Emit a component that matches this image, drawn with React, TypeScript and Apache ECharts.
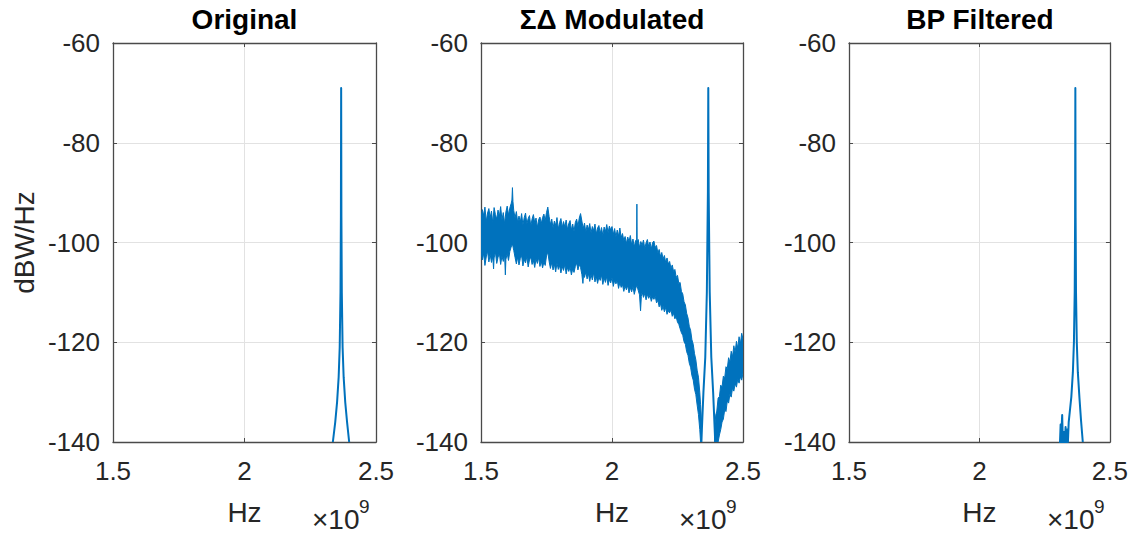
import React, { useEffect, useRef } from 'react';
import * as echarts from 'echarts';

const FONT = '"Liberation Sans", Arial, Helvetica, sans-serif';
const BLUE = '#0072BD';
const INK = '#262626';

const panelTitles = ['Original', 'ΣΔ Modulated', 'BP Filtered'];
const xLabel = 'Hz';
const yLabel = 'dBW/Hz';
const xExponent = '9';
const xRange = [1.5, 2.5]; // ×10^9 Hz
const xStep = 0.5;
const yRange = [-140, -60];
const yStep = 20;

// Original carrier PSD: [frequency (×10^9 Hz), dBW/Hz]
const originalPsd: [number, number][] = [
  [2.336, -140], [2.345, -136], [2.352, -132], [2.358, -127], [2.362, -121],
  [2.365, -110], [2.3665, -95], [2.3675, -69], [2.3685, -95], [2.370, -110],
  [2.373, -121], [2.377, -127], [2.383, -132], [2.390, -136], [2.398, -140],
];

// ΣΔ modulated: upper edge of the shaped noise floor, left of the carrier
const noiseUpperLow: [number, number][] = [
  [1.500, -95.2], [1.505, -93.4], [1.510, -94.6], [1.515, -92.9], [1.520, -95.8],
  [1.525, -94.1], [1.530, -93.2], [1.535, -95.0], [1.540, -93.7], [1.545, -96.1],
  [1.550, -93.0], [1.555, -94.4], [1.560, -95.3], [1.565, -93.5], [1.570, -94.8],
  [1.575, -92.8], [1.580, -95.5], [1.585, -94.0], [1.590, -96.2], [1.595, -93.9],
  [1.600, -92.7], [1.605, -94.5], [1.610, -93.1], [1.615, -92.2], [1.618, -91.5],
  [1.620, -89.0], [1.622, -91.8], [1.625, -93.6], [1.630, -95.1], [1.635, -93.8],
  [1.640, -96.0], [1.645, -94.7], [1.650, -95.9], [1.655, -94.2], [1.660, -96.5],
  [1.665, -95.0], [1.670, -94.1], [1.675, -96.3], [1.680, -95.2], [1.685, -94.6],
  [1.690, -96.7], [1.695, -95.3], [1.700, -94.4], [1.705, -96.0], [1.710, -95.1],
  [1.715, -97.0], [1.720, -95.4], [1.725, -94.9], [1.730, -96.2], [1.735, -95.0],
  [1.740, -94.3], [1.745, -95.6], [1.750, -94.0], [1.755, -92.9], [1.760, -94.8],
  [1.765, -96.4], [1.770, -95.3], [1.775, -97.1], [1.780, -95.7], [1.785, -96.6],
  [1.790, -95.0], [1.795, -97.3], [1.800, -96.0], [1.805, -95.2], [1.810, -97.0],
  [1.815, -95.8], [1.820, -96.9], [1.825, -95.5], [1.830, -97.4], [1.835, -96.2],
  [1.840, -95.6], [1.845, -97.5], [1.850, -96.3], [1.855, -97.8], [1.860, -96.0],
  [1.865, -95.3], [1.870, -96.8], [1.875, -95.1], [1.880, -94.2], [1.885, -95.7],
  [1.890, -97.2], [1.895, -96.1], [1.900, -97.9], [1.905, -96.5], [1.910, -97.4],
  [1.915, -96.2], [1.920, -98.1], [1.925, -96.8], [1.930, -97.6], [1.935, -96.3],
  [1.940, -98.3], [1.945, -97.1], [1.950, -96.6], [1.955, -98.2], [1.960, -97.0],
  [1.965, -98.6], [1.970, -96.9], [1.975, -97.8], [1.980, -96.4], [1.985, -98.0],
  [1.990, -96.7], [1.995, -97.5], [2.000, -96.8], [2.005, -98.4], [2.010, -97.2],
  [2.015, -98.9], [2.020, -97.5], [2.025, -98.7], [2.030, -97.1], [2.035, -99.0],
  [2.040, -98.2], [2.045, -99.6], [2.050, -98.8], [2.055, -100.2], [2.060, -98.9],
  [2.065, -99.8], [2.070, -98.6], [2.075, -100.5], [2.080, -99.3], [2.085, -100.9],
  [2.090, -99.6], [2.094, -100.0], [2.095, -92.3], [2.096, -100.0], [2.100, -99.4],
  [2.105, -101.0], [2.110, -99.8], [2.115, -100.6], [2.120, -99.5], [2.125, -101.2],
  [2.130, -100.1], [2.135, -99.4], [2.140, -100.8], [2.145, -99.9], [2.150, -101.3],
  [2.155, -100.0], [2.160, -99.7], [2.165, -101.0], [2.170, -100.6], [2.175, -102.1],
  [2.180, -101.4], [2.185, -102.8], [2.190, -102.0], [2.195, -103.3], [2.200, -102.6],
  [2.205, -104.0], [2.210, -103.1], [2.215, -104.3], [2.220, -103.8], [2.225, -105.2],
  [2.230, -104.5], [2.235, -105.8], [2.240, -105.4], [2.245, -107.0], [2.250, -106.6],
  [2.255, -108.2], [2.260, -108.0], [2.265, -109.8], [2.270, -110.3], [2.275, -111.9],
  [2.280, -112.5], [2.285, -114.2], [2.290, -115.1], [2.295, -116.8], [2.300, -117.6],
  [2.305, -119.5], [2.310, -120.4], [2.315, -122.3], [2.320, -123.5], [2.325, -125.6],
  [2.330, -127.0], [2.335, -130.0], [2.338, -132.5], [2.342, -136.0],
];
// Lower edge of the same noise floor
const noiseLowerLow: [number, number][] = [
  [1.500, -101.8], [1.505, -103.5], [1.510, -102.2], [1.515, -104.6], [1.520, -102.9],
  [1.525, -101.7], [1.530, -103.9], [1.535, -102.4], [1.540, -104.0], [1.545, -102.8],
  [1.548, -105.3], [1.550, -103.1], [1.555, -101.9], [1.560, -104.2], [1.565, -103.0],
  [1.570, -102.1], [1.575, -104.4], [1.580, -102.7], [1.585, -103.8], [1.590, -102.5],
  [1.593, -106.5], [1.595, -103.4], [1.600, -102.2], [1.605, -103.6], [1.610, -101.8],
  [1.615, -100.9], [1.620, -100.3], [1.625, -101.6], [1.630, -103.0], [1.635, -104.3],
  [1.640, -102.9], [1.645, -104.5], [1.650, -103.2], [1.655, -102.6], [1.660, -104.7],
  [1.665, -103.4], [1.670, -104.1], [1.675, -102.8], [1.680, -104.9], [1.685, -103.5],
  [1.690, -102.9], [1.695, -104.4], [1.700, -103.6], [1.705, -105.0], [1.710, -103.3],
  [1.715, -104.2], [1.720, -103.0], [1.725, -104.8], [1.730, -103.7], [1.735, -105.1],
  [1.740, -103.9], [1.745, -104.6], [1.750, -102.7], [1.755, -101.9], [1.760, -103.8],
  [1.765, -105.2], [1.770, -104.0], [1.775, -105.5], [1.780, -104.3], [1.785, -105.9],
  [1.790, -104.1], [1.795, -105.4], [1.800, -104.6], [1.805, -106.1], [1.810, -104.8],
  [1.815, -105.6], [1.820, -104.4], [1.825, -106.3], [1.830, -105.0], [1.835, -105.8],
  [1.840, -104.9], [1.845, -106.5], [1.850, -105.3], [1.855, -106.0], [1.860, -104.8],
  [1.865, -104.1], [1.870, -105.5], [1.875, -104.4], [1.880, -105.0], [1.885, -106.4],
  [1.889, -108.2], [1.892, -106.0], [1.895, -107.0], [1.900, -105.9], [1.905, -107.3],
  [1.910, -106.2], [1.915, -107.8], [1.920, -106.4], [1.925, -107.5], [1.930, -106.0],
  [1.935, -107.9], [1.940, -106.8], [1.945, -108.2], [1.950, -106.9], [1.955, -107.6],
  [1.960, -106.5], [1.965, -108.4], [1.970, -107.1], [1.975, -108.0], [1.980, -106.8],
  [1.985, -108.6], [1.990, -107.4], [1.995, -108.1], [2.000, -107.0], [2.005, -108.8],
  [2.010, -107.6], [2.015, -108.3], [2.020, -107.5], [2.025, -109.2], [2.030, -108.0],
  [2.035, -109.0], [2.040, -108.4], [2.045, -109.8], [2.050, -108.7], [2.055, -109.5],
  [2.060, -108.6], [2.065, -110.1], [2.070, -109.0], [2.075, -109.9], [2.080, -108.8],
  [2.085, -110.4], [2.090, -109.3], [2.095, -108.5], [2.100, -109.6], [2.105, -110.5],
  [2.109, -113.7], [2.112, -110.8], [2.115, -109.9], [2.120, -111.0], [2.125, -110.2],
  [2.130, -111.5], [2.135, -110.4], [2.140, -111.2], [2.145, -110.6], [2.150, -111.8],
  [2.155, -110.9], [2.160, -111.4], [2.165, -110.8], [2.170, -112.1], [2.175, -111.6],
  [2.180, -112.9], [2.185, -112.2], [2.190, -113.6], [2.195, -112.8], [2.200, -113.9],
  [2.205, -113.0], [2.210, -114.4], [2.215, -113.7], [2.220, -114.1], [2.225, -113.5],
  [2.230, -114.8], [2.235, -114.2], [2.240, -115.3], [2.245, -114.9], [2.250, -116.0],
  [2.255, -116.4], [2.260, -117.3], [2.265, -118.1], [2.270, -118.6], [2.275, -119.9],
  [2.280, -120.4], [2.285, -121.9], [2.290, -122.6], [2.295, -124.2], [2.300, -125.0],
  [2.305, -126.7], [2.310, -127.6], [2.315, -129.4], [2.320, -130.5], [2.325, -132.6],
  [2.330, -134.5], [2.335, -137.5], [2.338, -140.0], [2.342, -140.0],
];
// Noise floor right of the carrier
const noiseUpperHigh: [number, number][] = [
  [2.392, -137.0], [2.396, -134.6], [2.400, -133.8], [2.405, -131.2], [2.410, -130.9],
  [2.415, -128.6], [2.420, -129.0], [2.425, -126.8], [2.430, -127.2], [2.435, -124.9],
  [2.440, -125.3], [2.445, -123.1], [2.450, -124.0], [2.455, -121.8], [2.460, -122.9],
  [2.465, -120.7], [2.470, -122.0], [2.475, -119.8], [2.480, -121.2], [2.485, -118.9],
  [2.490, -120.3], [2.495, -118.2], [2.500, -119.4],
];
const noiseLowerHigh: [number, number][] = [
  [2.392, -140.0], [2.405, -140.0], [2.410, -138.6], [2.415, -137.5], [2.420, -136.0],
  [2.425, -135.4], [2.430, -133.6], [2.435, -133.9], [2.440, -131.8], [2.445, -132.2],
  [2.450, -130.4], [2.455, -131.0], [2.460, -129.2], [2.465, -129.8], [2.470, -128.3],
  [2.475, -129.0], [2.480, -127.4], [2.485, -128.2], [2.490, -126.9], [2.495, -127.6],
  [2.500, -126.2],
];
// Carrier and its skirts in the modulated spectrum
const modulatedCarrier: [number, number][] = [
  [2.341, -140], [2.349, -130], [2.356, -123], [2.362, -110], [2.366, -90],
  [2.3675, -69], [2.369, -90], [2.373, -110], [2.379, -123], [2.386, -130],
  [2.394, -140],
];

// Band-pass filtered PSD
const filteredPsd: [number, number][] = [
  [2.308, -141], [2.311, -136.5], [2.313, -140.5], [2.315, -137], [2.317, -134.6],
  [2.319, -139], [2.321, -141], [2.324, -138], [2.327, -141], [2.330, -137],
  [2.333, -140.5], [2.336, -137.5], [2.339, -140], [2.342, -136], [2.346, -134],
  [2.352, -131], [2.358, -126], [2.362, -120], [2.365, -110], [2.3665, -95],
  [2.3675, -69], [2.3685, -95], [2.370, -110], [2.373, -120], [2.377, -126],
  [2.383, -131], [2.389, -135.5], [2.396, -140],
];

const noiseBands = [
  { upper: noiseUpperLow, lower: noiseLowerLow },
  { upper: noiseUpperHigh, lower: noiseLowerHigh },
];

// Layout (pixels)
const PLOT_TOP = 43;
const PLOT_HEIGHT = 399;
const plotLefts = [113, 481, 849];
const plotWidths = [263, 262, 262];

function buildOption(): echarts.EChartsOption {
  const grid: any[] = [];
  const xAxis: any[] = [];
  const yAxis: any[] = [];
  const title: any[] = [];
  const graphic: any[] = [];

  const axisLine = { show: true, lineStyle: { color: '#4a4a4a', width: 1.3 } };
  const tick = { show: true, inside: true, length: 4, lineStyle: { color: '#4a4a4a', width: 1 } };
  const labelStyle = { color: INK, fontSize: 26, fontFamily: FONT };

  plotLefts.forEach((left, i) => {
    const w = plotWidths[i];
    grid.push({ left, top: PLOT_TOP, width: w, height: PLOT_HEIGHT, containLabel: false });
    const xBase = {
      type: 'value', gridIndex: i, min: xRange[0], max: xRange[1], interval: xStep,
      axisLine, axisTick: tick,
    };
    const yBase = {
      type: 'value', gridIndex: i, min: yRange[0], max: yRange[1], interval: yStep,
      axisLine, axisTick: tick,
    };
    xAxis.push({
      ...xBase, position: 'bottom',
      axisLabel: { ...labelStyle, margin: 16 },
      splitLine: { show: true, lineStyle: { color: '#e2e2e2', width: 1 } },
      name: xLabel, nameLocation: 'middle', nameGap: 56,
      nameTextStyle: { color: INK, fontSize: 28, fontFamily: FONT },
    });
    xAxis.push({ ...xBase, position: 'top', axisLabel: { show: false }, splitLine: { show: false } });
    yAxis.push({
      ...yBase, position: 'left',
      axisLabel: { ...labelStyle, margin: 13 },
      splitLine: { show: true, lineStyle: { color: '#e2e2e2', width: 1 } },
      ...(i === 0
        ? {
            name: yLabel, nameLocation: 'middle', nameGap: 75,
            nameTextStyle: { color: INK, fontSize: 28, fontFamily: FONT },
          }
        : {}),
    });
    yAxis.push({ ...yBase, position: 'right', axisLabel: { show: false }, splitLine: { show: false } });

    title.push({
      text: panelTitles[i], left: left + w / 2, top: 5, textAlign: 'center', padding: 0,
      textStyle: { color: '#000', fontSize: 28, fontWeight: 'bold', fontFamily: FONT },
    });

    // Axis exponent "×10^9" under the right end of each x axis
    const right = left + w;
    graphic.push({
      type: 'text', x: right - 64, y: 519,
      style: {
        text: '×10', fill: INK, fontSize: 28, lineHeight: 22, fontFamily: FONT,
        align: 'left', verticalAlign: 'middle',
      },
    });
    graphic.push({
      type: 'text', x: right - 17, y: 506,
      style: {
        text: xExponent, fill: INK, fontSize: 19, lineHeight: 16, fontFamily: FONT,
        align: 'left', verticalAlign: 'middle',
      },
    });
  });

  const line = (data: [number, number][], idx: number, width = 2) => ({
    type: 'line', data, xAxisIndex: 2 * idx, yAxisIndex: 2 * idx,
    showSymbol: false, symbol: 'none', clip: true,
    lineStyle: { color: BLUE, width, join: 'round' },
  });

  return {
    animation: false,
    backgroundColor: '#ffffff',
    title,
    grid,
    xAxis,
    yAxis,
    graphic,
    series: [
      line(originalPsd, 0),
      {
        type: 'custom', xAxisIndex: 2, yAxisIndex: 2, clip: true,
        encode: { x: 0, y: 1 },
        data: [[2.0, -100, 0], [2.45, -125, 1]],
        renderItem: (_params: any, api: any) => {
          const band = noiseBands[api.value(2)];
          const top = band.upper.map((p) => api.coord(p));
          const bottom = band.lower.slice().reverse().map((p) => api.coord(p));
          return {
            type: 'polygon',
            shape: { points: top.concat(bottom) },
            style: { fill: BLUE, stroke: BLUE, lineWidth: 1, lineJoin: 'round' },
          };
        },
      } as any,
      line(modulatedCarrier, 1, 2),
      line(filteredPsd, 2),
    ] as any,
  };
}

export default function App() {
  const ref = useRef<HTMLDivElement>(null);
  useEffect(() => {
    if (!ref.current) return;
    const chart = echarts.init(ref.current, undefined, { renderer: 'svg' });
    chart.setOption(buildOption());
    return () => chart.dispose();
  }, []);
  return (
    <div
      ref={ref}
      style={{ position: 'absolute', left: 0, top: 0, width: 1131, height: 533, background: '#fff' }}
    />
  );
}
